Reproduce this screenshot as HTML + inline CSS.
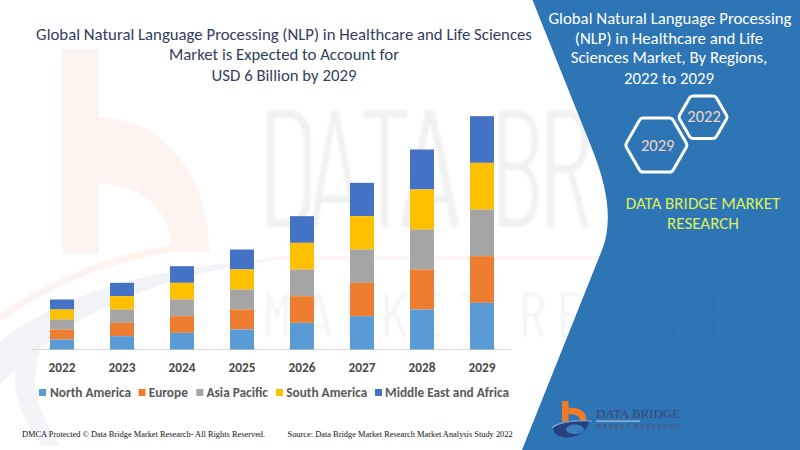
<!DOCTYPE html>
<html>
<head>
<meta charset="utf-8">
<title>Global NLP in Healthcare and Life Sciences Market</title>
<style>
html,body{margin:0;padding:0;}
body{width:800px;height:450px;overflow:hidden;position:relative;background:#ffffff;}
svg{position:absolute;left:0;top:0;display:block;}
</style>
</head>
<body>
<svg width="800" height="450" viewBox="0 0 800 450">
<defs><filter id="bl" x="-5%" y="-5%" width="110%" height="110%"><feGaussianBlur stdDeviation="1.2"/></filter></defs>
<rect width="800" height="450" fill="#ffffff"/>
<!-- watermark logo: b -->
<g fill="#fef4ef">
  <rect x="62" y="49" width="37" height="205"/>
  <path d="M99 118 C152 116 206 160 210 252 L172 252 C170 214 150 185 99 184 Z"/>
</g>
<path d="M0 318 C50 282 110 258 175 248" fill="none" stroke="#fef4ef" stroke-width="7"/>
<path d="M0 342 C60 292 170 263 285 259 C185 270 95 302 38 350 C25 362 12 372 0 385 Z" fill="#f1f3f7"/>
<path d="M22 345 C8 375 14 410 42 445 L60 445 C36 412 30 380 40 352 Z" fill="#f2f4f8"/>
<g filter="url(#bl)">
<text x="256" y="227" style="font-family:'Barlow Condensed', 'Liberation Sans', sans-serif;font-weight:300;font-size:168px" fill="#f1f1f1" textLength="64.5" lengthAdjust="spacingAndGlyphs">D</text>
<text x="309" y="227" style="font-family:'Barlow Condensed', 'Liberation Sans', sans-serif;font-weight:300;font-size:168px" fill="#f1f1f1" textLength="52" lengthAdjust="spacingAndGlyphs">A</text>
<text x="358.7" y="227" style="font-family:'Barlow Condensed', 'Liberation Sans', sans-serif;font-weight:300;font-size:168px" fill="#f1f1f1" textLength="52.7" lengthAdjust="spacingAndGlyphs">T</text>
<text x="399" y="227" style="font-family:'Barlow Condensed', 'Liberation Sans', sans-serif;font-weight:300;font-size:168px" fill="#f1f1f1" textLength="62.4" lengthAdjust="spacingAndGlyphs">A</text>
<text x="489.5" y="227" style="font-family:'Barlow Condensed', 'Liberation Sans', sans-serif;font-weight:300;font-size:168px" fill="#f1f1f1" textLength="53.4" lengthAdjust="spacingAndGlyphs">B</text>
<text x="537.4" y="227" style="font-family:'Barlow Condensed', 'Liberation Sans', sans-serif;font-weight:300;font-size:168px" fill="#f1f1f1" textLength="55.5" lengthAdjust="spacingAndGlyphs">R</text>
<rect x="265" y="257" width="340" height="2" fill="#fcefe8"/>
<text x="262" y="337" style="font-family:'Barlow Condensed', 'Liberation Sans', sans-serif;font-weight:300;font-size:62px" fill="#f3f3f3" textLength="30" lengthAdjust="spacingAndGlyphs">M</text>
<text x="303" y="337" style="font-family:'Barlow Condensed', 'Liberation Sans', sans-serif;font-weight:300;font-size:62px" fill="#f3f3f3" textLength="30" lengthAdjust="spacingAndGlyphs">A</text>
<text x="343" y="337" style="font-family:'Barlow Condensed', 'Liberation Sans', sans-serif;font-weight:300;font-size:62px" fill="#f3f3f3" textLength="28" lengthAdjust="spacingAndGlyphs">R</text>
<text x="380" y="337" style="font-family:'Barlow Condensed', 'Liberation Sans', sans-serif;font-weight:300;font-size:62px" fill="#f3f3f3" textLength="28" lengthAdjust="spacingAndGlyphs">K</text>
<text x="420" y="337" style="font-family:'Barlow Condensed', 'Liberation Sans', sans-serif;font-weight:300;font-size:62px" fill="#f3f3f3" textLength="24" lengthAdjust="spacingAndGlyphs">E</text>
<text x="458" y="337" style="font-family:'Barlow Condensed', 'Liberation Sans', sans-serif;font-weight:300;font-size:62px" fill="#f3f3f3" textLength="26" lengthAdjust="spacingAndGlyphs">T</text>
<text x="518" y="337" style="font-family:'Barlow Condensed', 'Liberation Sans', sans-serif;font-weight:300;font-size:62px" fill="#f3f3f3" textLength="28" lengthAdjust="spacingAndGlyphs">R</text>
<text x="557" y="337" style="font-family:'Barlow Condensed', 'Liberation Sans', sans-serif;font-weight:300;font-size:62px" fill="#f3f3f3" textLength="24" lengthAdjust="spacingAndGlyphs">E</text>
</g>
<path d="M532.5 0 L800 0 L800 450 L522 450 L602 250 Q617.3 212 592.5 150 Z" fill="#2e75b6"/>
<g filter="url(#bl)">
<text x="594" y="337" style="font-family:'Barlow Condensed', 'Liberation Sans', sans-serif;font-weight:300;font-size:62px" fill="#2d73b4" textLength="26" lengthAdjust="spacingAndGlyphs">S</text>
<text x="633" y="337" style="font-family:'Barlow Condensed', 'Liberation Sans', sans-serif;font-weight:300;font-size:62px" fill="#2d73b4" textLength="24" lengthAdjust="spacingAndGlyphs">E</text>
<text x="669" y="337" style="font-family:'Barlow Condensed', 'Liberation Sans', sans-serif;font-weight:300;font-size:62px" fill="#2d73b4" textLength="30" lengthAdjust="spacingAndGlyphs">A</text>
<text x="707" y="337" style="font-family:'Barlow Condensed', 'Liberation Sans', sans-serif;font-weight:300;font-size:62px" fill="#2d73b4" textLength="28" lengthAdjust="spacingAndGlyphs">R</text>
<text x="745" y="337" style="font-family:'Barlow Condensed', 'Liberation Sans', sans-serif;font-weight:300;font-size:62px" fill="#2d73b4" textLength="26" lengthAdjust="spacingAndGlyphs">C</text>
<text x="782" y="337" style="font-family:'Barlow Condensed', 'Liberation Sans', sans-serif;font-weight:300;font-size:62px" fill="#2d73b4" textLength="26" lengthAdjust="spacingAndGlyphs">H</text>
</g>
<rect x="32" y="349" width="480" height="1" fill="#d9d9d9"/>
<rect x="50" y="299.500" width="24" height="10.000" fill="#4472c4"/>
<rect x="50" y="309.500" width="24" height="10.000" fill="#ffc000"/>
<rect x="50" y="319.500" width="24" height="10.000" fill="#a5a5a5"/>
<rect x="50" y="329.500" width="24" height="10.000" fill="#ed7d31"/>
<rect x="50" y="339.500" width="24" height="10.000" fill="#5b9bd5"/>
<rect x="110" y="282.833" width="24" height="13.333" fill="#4472c4"/>
<rect x="110" y="296.166" width="24" height="13.333" fill="#ffc000"/>
<rect x="110" y="309.500" width="24" height="13.333" fill="#a5a5a5"/>
<rect x="110" y="322.833" width="24" height="13.333" fill="#ed7d31"/>
<rect x="110" y="336.167" width="24" height="13.333" fill="#5b9bd5"/>
<rect x="170" y="266.167" width="24" height="16.667" fill="#4472c4"/>
<rect x="170" y="282.834" width="24" height="16.667" fill="#ffc000"/>
<rect x="170" y="299.500" width="24" height="16.667" fill="#a5a5a5"/>
<rect x="170" y="316.167" width="24" height="16.667" fill="#ed7d31"/>
<rect x="170" y="332.833" width="24" height="16.667" fill="#5b9bd5"/>
<rect x="230" y="249.500" width="24" height="20.000" fill="#4472c4"/>
<rect x="230" y="269.500" width="24" height="20.000" fill="#ffc000"/>
<rect x="230" y="289.500" width="24" height="20.000" fill="#a5a5a5"/>
<rect x="230" y="309.500" width="24" height="20.000" fill="#ed7d31"/>
<rect x="230" y="329.500" width="24" height="20.000" fill="#5b9bd5"/>
<rect x="290" y="216.167" width="24" height="26.667" fill="#4472c4"/>
<rect x="290" y="242.834" width="24" height="26.667" fill="#ffc000"/>
<rect x="290" y="269.500" width="24" height="26.667" fill="#a5a5a5"/>
<rect x="290" y="296.167" width="24" height="26.667" fill="#ed7d31"/>
<rect x="290" y="322.833" width="24" height="26.667" fill="#5b9bd5"/>
<rect x="350" y="182.833" width="24" height="33.333" fill="#4472c4"/>
<rect x="350" y="216.166" width="24" height="33.333" fill="#ffc000"/>
<rect x="350" y="249.500" width="24" height="33.333" fill="#a5a5a5"/>
<rect x="350" y="282.833" width="24" height="33.333" fill="#ed7d31"/>
<rect x="350" y="316.167" width="24" height="33.333" fill="#5b9bd5"/>
<rect x="410" y="149.500" width="24" height="40.000" fill="#4472c4"/>
<rect x="410" y="189.500" width="24" height="40.000" fill="#ffc000"/>
<rect x="410" y="229.500" width="24" height="40.000" fill="#a5a5a5"/>
<rect x="410" y="269.500" width="24" height="40.000" fill="#ed7d31"/>
<rect x="410" y="309.500" width="24" height="40.000" fill="#5b9bd5"/>
<rect x="470" y="116.167" width="24" height="46.667" fill="#4472c4"/>
<rect x="470" y="162.834" width="24" height="46.667" fill="#ffc000"/>
<rect x="470" y="209.500" width="24" height="46.667" fill="#a5a5a5"/>
<rect x="470" y="256.167" width="24" height="46.667" fill="#ed7d31"/>
<rect x="470" y="302.833" width="24" height="46.667" fill="#5b9bd5"/>
<text x="36.12" y="39.50" style="font-family:Carlito, 'Liberation Sans', Arial, sans-serif;font-size:16.75px;font-weight:400;font-size-adjust:0.4775;" fill="#32405f" textLength="495.75" lengthAdjust="spacingAndGlyphs">Global Natural Language Processing (NLP) in Healthcare and Life Sciences</text>
<text x="169.00" y="60.09" style="font-family:Carlito, 'Liberation Sans', Arial, sans-serif;font-size:16.75px;font-weight:400;font-size-adjust:0.4775;" fill="#32405f" textLength="229.98" lengthAdjust="spacingAndGlyphs">Market is Expected to Account for</text>
<text x="211.61" y="80.69" style="font-family:Carlito, 'Liberation Sans', Arial, sans-serif;font-size:16.75px;font-weight:400;font-size-adjust:0.4775;" fill="#32405f" textLength="144.77" lengthAdjust="spacingAndGlyphs">USD 6 Billion by 2029</text>
<text x="548.53" y="23.94" style="font-family:Carlito, 'Liberation Sans', Arial, sans-serif;font-size:16.8px;font-weight:400;font-size-adjust:0.4775;" fill="#ffffff" textLength="242.94" lengthAdjust="spacingAndGlyphs">Global Natural Language Processing</text>
<text x="574.83" y="44.09" style="font-family:Carlito, 'Liberation Sans', Arial, sans-serif;font-size:16.8px;font-weight:400;font-size-adjust:0.4775;" fill="#ffffff" textLength="188.33" lengthAdjust="spacingAndGlyphs">(NLP) in Healthcare and Life</text>
<text x="570.75" y="63.39" style="font-family:Carlito, 'Liberation Sans', Arial, sans-serif;font-size:16.8px;font-weight:400;font-size-adjust:0.4775;" fill="#ffffff" textLength="196.50" lengthAdjust="spacingAndGlyphs">Sciences Market, By Regions,</text>
<text x="624.03" y="84.00" style="font-family:Carlito, 'Liberation Sans', Arial, sans-serif;font-size:16.8px;font-weight:400;font-size-adjust:0.4775;" fill="#ffffff" textLength="89.94" lengthAdjust="spacingAndGlyphs">2022 to 2029</text>
<text x="625.77" y="208.69" style="font-family:Carlito, 'Liberation Sans', Arial, sans-serif;font-size:17px;font-weight:400;font-size-adjust:0.4775;" fill="#dcf05a" textLength="154.47" lengthAdjust="spacingAndGlyphs">DATA BRIDGE MARKET</text>
<text x="667.06" y="228.69" style="font-family:Carlito, 'Liberation Sans', Arial, sans-serif;font-size:17px;font-weight:400;font-size-adjust:0.4775;" fill="#dcf05a" textLength="71.88" lengthAdjust="spacingAndGlyphs">RESEARCH</text>
<text x="48.52" y="372.00" style="font-family:Carlito, 'Liberation Sans', Arial, sans-serif;font-size:13.3px;font-weight:700;font-size-adjust:0.4849;" fill="#4a4a4a" textLength="26.97" lengthAdjust="spacingAndGlyphs">2022</text>
<text x="108.52" y="372.00" style="font-family:Carlito, 'Liberation Sans', Arial, sans-serif;font-size:13.3px;font-weight:700;font-size-adjust:0.4849;" fill="#4a4a4a" textLength="26.97" lengthAdjust="spacingAndGlyphs">2023</text>
<text x="168.52" y="372.00" style="font-family:Carlito, 'Liberation Sans', Arial, sans-serif;font-size:13.3px;font-weight:700;font-size-adjust:0.4849;" fill="#4a4a4a" textLength="26.97" lengthAdjust="spacingAndGlyphs">2024</text>
<text x="228.52" y="372.00" style="font-family:Carlito, 'Liberation Sans', Arial, sans-serif;font-size:13.3px;font-weight:700;font-size-adjust:0.4849;" fill="#4a4a4a" textLength="26.97" lengthAdjust="spacingAndGlyphs">2025</text>
<text x="288.52" y="372.00" style="font-family:Carlito, 'Liberation Sans', Arial, sans-serif;font-size:13.3px;font-weight:700;font-size-adjust:0.4849;" fill="#4a4a4a" textLength="26.97" lengthAdjust="spacingAndGlyphs">2026</text>
<text x="348.52" y="372.00" style="font-family:Carlito, 'Liberation Sans', Arial, sans-serif;font-size:13.3px;font-weight:700;font-size-adjust:0.4849;" fill="#4a4a4a" textLength="26.97" lengthAdjust="spacingAndGlyphs">2027</text>
<text x="408.52" y="372.00" style="font-family:Carlito, 'Liberation Sans', Arial, sans-serif;font-size:13.3px;font-weight:700;font-size-adjust:0.4849;" fill="#4a4a4a" textLength="26.97" lengthAdjust="spacingAndGlyphs">2028</text>
<text x="468.52" y="372.00" style="font-family:Carlito, 'Liberation Sans', Arial, sans-serif;font-size:13.3px;font-weight:700;font-size-adjust:0.4849;" fill="#4a4a4a" textLength="26.97" lengthAdjust="spacingAndGlyphs">2029</text>
<rect x="39" y="389" width="7" height="7" fill="#5b9bd5"/>
<rect x="138.5" y="389" width="7" height="7" fill="#ed7d31"/>
<rect x="196.3" y="389" width="7" height="7" fill="#a5a5a5"/>
<rect x="276" y="389" width="7" height="7" fill="#ffc000"/>
<rect x="375" y="389" width="7" height="7" fill="#4472c4"/>
<text x="50.00" y="397.31" style="font-family:Carlito, 'Liberation Sans', Arial, sans-serif;font-size:13.3px;font-weight:700;font-size-adjust:0.4849;" fill="#595959" textLength="81.00" lengthAdjust="spacingAndGlyphs">North America</text>
<text x="148.69" y="397.31" style="font-family:Carlito, 'Liberation Sans', Arial, sans-serif;font-size:13.3px;font-weight:700;font-size-adjust:0.4849;" fill="#595959" textLength="39.17" lengthAdjust="spacingAndGlyphs">Europe</text>
<text x="206.50" y="397.31" style="font-family:Carlito, 'Liberation Sans', Arial, sans-serif;font-size:13.3px;font-weight:700;font-size-adjust:0.4849;" fill="#595959" textLength="61.34" lengthAdjust="spacingAndGlyphs">Asia Pacific</text>
<text x="286.30" y="397.31" style="font-family:Carlito, 'Liberation Sans', Arial, sans-serif;font-size:13.3px;font-weight:700;font-size-adjust:0.4849;" fill="#595959" textLength="80.94" lengthAdjust="spacingAndGlyphs">South America</text>
<text x="385.09" y="397.31" style="font-family:Carlito, 'Liberation Sans', Arial, sans-serif;font-size:13.3px;font-weight:700;font-size-adjust:0.4849;" fill="#595959" textLength="123.92" lengthAdjust="spacingAndGlyphs">Middle East and Africa</text>
<text x="22.00" y="436.50" style="font-family:'Liberation Serif', 'Times New Roman', serif;font-size:8.4px;font-weight:400;" fill="#111111" textLength="243.14" lengthAdjust="spacingAndGlyphs">DMCA Protected © Data Bridge Market Research- All Rights Reserved.</text>
<text x="287.50" y="436.50" style="font-family:'Liberation Serif', 'Times New Roman', serif;font-size:8.4px;font-weight:400;" fill="#111111" textLength="225.16" lengthAdjust="spacingAndGlyphs">Source: Data Bridge Market Research Market Analysis Study 2022</text>
<g fill="none" stroke="#ffffff" stroke-width="3" stroke-linejoin="round">
<path d="M686.30 147.27 L673.20 169.95 Q671.95 172.12 669.45 172.12 L643.25 172.12 Q640.75 172.12 639.50 169.95 L626.40 147.27 Q625.15 145.10 626.40 142.93 L639.50 120.25 Q640.75 118.08 643.25 118.08 L669.45 118.08 Q671.95 118.08 673.20 120.25 L686.30 142.93 Q687.55 145.10 686.30 147.27 Z"/>
<path d="M726.50 119.11 L716.40 136.60 Q715.30 138.50 713.10 138.50 L692.90 138.50 Q690.70 138.50 689.60 136.60 L679.50 119.11 Q678.40 117.20 679.50 115.29 L689.60 97.80 Q690.70 95.90 692.90 95.90 L713.10 95.90 Q715.30 95.90 716.40 97.80 L726.50 115.29 Q727.60 117.20 726.50 119.11 Z"/>
</g>
<text x="640.97" y="151.20" style="font-family:Carlito, 'Liberation Sans', Arial, sans-serif;font-size:16.5px;font-weight:400;font-size-adjust:0.4775;" fill="#f2d5c5" textLength="33.45" lengthAdjust="spacingAndGlyphs">2029</text>
<text x="687.37" y="122.10" style="font-family:Carlito, 'Liberation Sans', Arial, sans-serif;font-size:16.5px;font-weight:400;font-size-adjust:0.4775;" fill="#f2d5c5" textLength="33.45" lengthAdjust="spacingAndGlyphs">2022</text>
<g fill="#f07c2a">
  <rect x="562" y="401" width="6.5" height="20.5"/>
  <path d="M568.5 408 C580 407 587 412 586.5 421 L580 421 C580 416 576 414 568.5 414 Z"/>
</g>
<path d="M553 428.5 C559 422 574 420.5 589 421.5 C588 430 579 437.5 566 437.5 C559 437.5 554 434 553 428.5 Z" fill="#29407f"/>
<ellipse cx="575" cy="429.4" rx="9" ry="4.8" fill="#3a7cc0"/>
<path d="M552 427.5 C560 421.5 576 420 592 421" fill="none" stroke="#7fa3d0" stroke-width="1.2"/>
<text x="596.00" y="417.60" style="font-family:'Liberation Serif', 'Times New Roman', serif;font-size:13.2px;font-weight:400;" fill="#3a4670" textLength="84.00" lengthAdjust="spacingAndGlyphs">DATA BRIDGE</text>
<rect x="596" y="420.6" width="44" height="1" fill="#c9d3e6"/>
<text x="596" y="429.4" style="font-family:'Liberation Sans', Arial, sans-serif;font-size:6.3px;font-weight:700" fill="#4a5a82" textLength="84" lengthAdjust="spacing">MARKET RESEARCH</text>
</svg>
</body>
</html>
